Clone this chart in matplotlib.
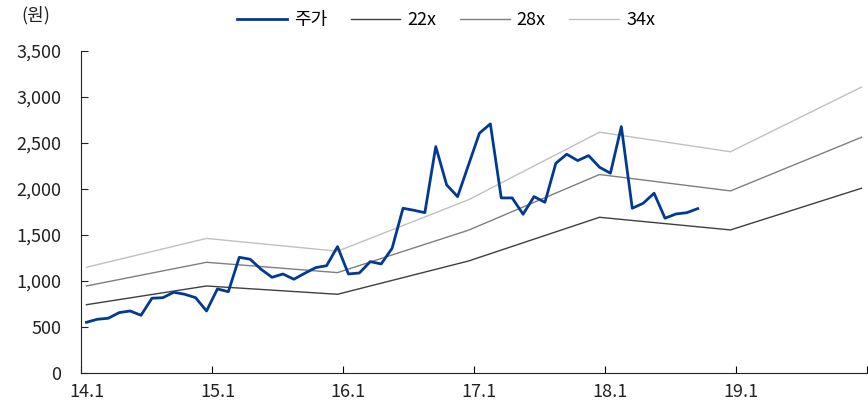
import numpy as np
import matplotlib
matplotlib.use('Agg')
import matplotlib.pyplot as plt

plt.rcParams['font.family'] = ['Noto Sans CJK KR', 'DejaVu Sans']

# monthly stock price from 14.1 (category index 0) to 18.9 (index 56)
price = [553, 586, 597, 658, 676, 629, 814, 820, 879, 857, 820, 676,
         915, 885, 1258, 1237, 1128, 1041, 1077, 1020, 1085, 1146, 1167, 1374,
         1077, 1088, 1211, 1186, 1356, 1790, 1768, 1742, 2459, 2043, 1916, 2260,
         2604, 2705, 1902, 1902, 1725, 1916, 1855, 2278, 2376, 2307, 2361, 2235,
         2170, 2676, 1790, 1844, 1953, 1682, 1728, 1742, 1786]

# PER band anchor months (category index) and values
band_idx = [0, 11, 23, 35, 47, 59, 71]
per22 = [744, 947, 857, 1218, 1692, 1555, 2007]
per28 = [947, 1204, 1092, 1552, 2156, 1978, 2560]
per34 = [1150, 1463, 1324, 1882, 2615, 2403, 3104]

tick_labels = ['14.1', '15.1', '16.1', '17.1', '18.1', '19.1']

fig = plt.figure(figsize=(8.68, 4.09), dpi=100)
ax = fig.add_axes([0.0933, 0.0873, 0.9055, 0.789])

ax.plot(np.arange(len(price)), price, color='#003A94', lw=2.0, label='주가', zorder=5)
ax.plot(band_idx, per22, color='#3F3F3F', lw=1.0, label='22x')
ax.plot(band_idx, per28, color='#7F7F7F', lw=1.0, label='28x')
ax.plot(band_idx, per34, color='#C0C0C0', lw=1.0, label='34x')

ax.set_xlim(-0.5, 71.5)
ax.set_ylim(0, 3500)
ax.set_yticks(np.arange(0, 3501, 500))
ax.set_yticklabels([f'{v:,}' for v in range(0, 3501, 500)])

# tick marks on category boundaries, labels on category centers
ax.set_xticks(np.arange(-0.5, 72, 12))
ax.set_xticklabels([])
ax.set_xticks(np.arange(0, 61, 12), minor=True)
ax.set_xticklabels(tick_labels, minor=True)
ax.tick_params(axis='x', which='major', direction='in', length=5, width=0.8)
ax.tick_params(axis='x', which='minor', length=0, pad=7, labelsize=13, colors='#222222')
ax.tick_params(axis='y', direction='in', length=5, width=0.8, pad=14,
               labelsize=13, colors='#222222')

for s in ['top', 'right']:
    ax.spines[s].set_visible(False)
ax.spines['left'].set_color('#222222')
ax.spines['bottom'].set_color('#222222')

fig.legend(loc='center', bbox_to_anchor=(0.514, 0.951), ncol=4, frameon=False,
           fontsize=13, handlelength=2.75, handletextpad=0.4, columnspacing=1.3)
fig.text(0.025, 0.962, '(원)', fontsize=13, ha='left', va='center', color='#222222')

fig.savefig('out.png', dpi=100)
